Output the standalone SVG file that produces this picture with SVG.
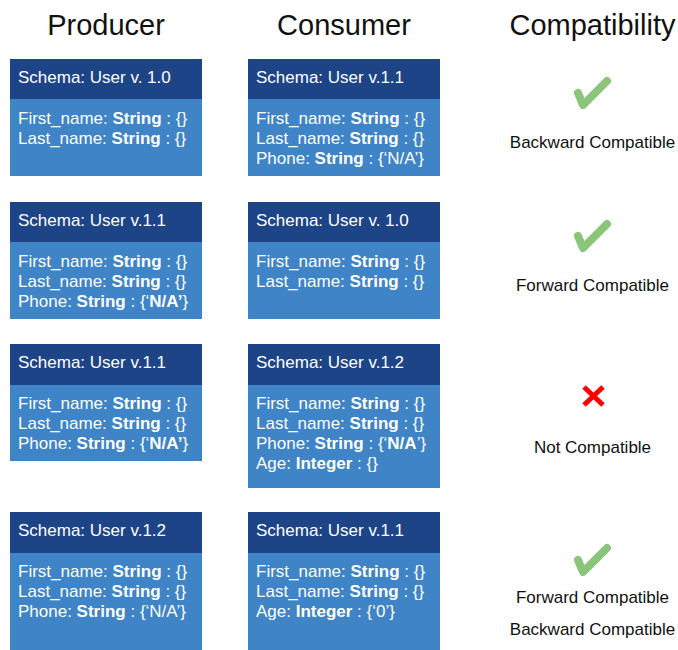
<svg xmlns="http://www.w3.org/2000/svg" width="678" height="650" viewBox="0 0 678 650">
<style>
text{font-family:"Liberation Sans",Arial,sans-serif}
.title{font-size:29px;fill:#111;text-anchor:middle}
.hdr{fill:#1D4487}
.body{fill:#3E84C6}
.ht{font-size:17px;fill:#fff}
.bt{font-size:17px;fill:#fff}
b,.b{font-weight:bold}
.ct{font-size:17px;fill:#111;text-anchor:middle}
.chk{fill:none;stroke:#8BC57A;stroke-width:8;stroke-linecap:round;stroke-linejoin:round}
.x{stroke:#FF0000;stroke-width:5}
</style>
<rect width="678" height="650" fill="#fff"/>
<g id="titles">
<text class="title" x="106" y="35">Producer</text>
<text class="title" x="344" y="35">Consumer</text>
<text class="title" x="592.5" y="35">Compatibility</text>
</g>

<g id="p1">
<rect class="body" x="10" y="59" width="192" height="117"/>
<rect class="hdr" x="10" y="59" width="192" height="40"/>
<text class="ht" x="18" y="83">Schema: User v. 1.0</text>
<text class="bt" x="18" y="124">First_name: <tspan class="b">String</tspan> : {}</text>
<text class="bt" x="18" y="144">Last_name: <tspan class="b">String</tspan> : {}</text>
</g>
<g id="c1">
<rect class="body" x="248" y="59" width="192" height="117"/>
<rect class="hdr" x="248" y="59" width="192" height="40"/>
<text class="ht" x="256" y="83">Schema: User v.1.1</text>
<text class="bt" x="256" y="124">First_name: <tspan class="b">String</tspan> : {}</text>
<text class="bt" x="256" y="144">Last_name: <tspan class="b">String</tspan> : {}</text>
<text class="bt" x="256" y="164">Phone: <tspan class="b">String</tspan> : {‘N/A’}</text>
</g>
<g id="r1">
<path class="chk" d="M578,93 L583,105 L607,81"/>
<text class="ct" x="592.5" y="148">Backward Compatible</text>
</g>

<g id="p2">
<rect class="body" x="10" y="202" width="192" height="117"/>
<rect class="hdr" x="10" y="202" width="192" height="40"/>
<text class="ht" x="18" y="226">Schema: User v.1.1</text>
<text class="bt" x="18" y="267">First_name: <tspan class="b">String</tspan> : {}</text>
<text class="bt" x="18" y="287">Last_name: <tspan class="b">String</tspan> : {}</text>
<text class="bt" x="18" y="307">Phone: <tspan class="b">String</tspan> : {‘<tspan class="b">N/A’</tspan>}</text>
</g>
<g id="c2">
<rect class="body" x="248" y="202" width="192" height="117"/>
<rect class="hdr" x="248" y="202" width="192" height="40"/>
<text class="ht" x="256" y="226">Schema: User v. 1.0</text>
<text class="bt" x="256" y="267">First_name: <tspan class="b">String</tspan> : {}</text>
<text class="bt" x="256" y="287">Last_name: <tspan class="b">String</tspan> : {}</text>
</g>
<g id="r2">
<path class="chk" d="M578,236 L583,248 L607,224"/>
<text class="ct" x="592.5" y="291">Forward Compatible</text>
</g>

<g id="p3">
<rect class="body" x="10" y="344" width="192" height="117"/>
<rect class="hdr" x="10" y="344" width="192" height="41"/>
<text class="ht" x="18" y="368">Schema: User v.1.1</text>
<text class="bt" x="18" y="409">First_name: <tspan class="b">String</tspan> : {}</text>
<text class="bt" x="18" y="429">Last_name: <tspan class="b">String</tspan> : {}</text>
<text class="bt" x="18" y="449">Phone: <tspan class="b">String</tspan> : {‘<tspan class="b">N/A’</tspan>}</text>
</g>
<g id="c3">
<rect class="body" x="248" y="344" width="192" height="144"/>
<rect class="hdr" x="248" y="344" width="192" height="41"/>
<text class="ht" x="256" y="368">Schema: User v.1.2</text>
<text class="bt" x="256" y="409">First_name: <tspan class="b">String</tspan> : {}</text>
<text class="bt" x="256" y="429">Last_name: <tspan class="b">String</tspan> : {}</text>
<text class="bt" x="256" y="449">Phone: <tspan class="b">String</tspan> : {‘<tspan class="b">N/A</tspan>’}</text>
<text class="bt" x="256" y="469">Age: <tspan class="b">Integer</tspan> : {}</text>
</g>
<g id="r3">
<path class="x" d="M584,387 L603,405 M603,387 L584,405"/>
<text class="ct" x="592.5" y="453">Not Compatible</text>
</g>

<g id="p4">
<rect class="body" x="10" y="512" width="192" height="138"/>
<rect class="hdr" x="10" y="512" width="192" height="41"/>
<text class="ht" x="18" y="536">Schema: User v.1.2</text>
<text class="bt" x="18" y="577">First_name: <tspan class="b">String</tspan> : {}</text>
<text class="bt" x="18" y="597">Last_name: <tspan class="b">String</tspan> : {}</text>
<text class="bt" x="18" y="617">Phone: <tspan class="b">String</tspan> : {‘N/A’}</text>
</g>
<g id="c4">
<rect class="body" x="248" y="512" width="192" height="138"/>
<rect class="hdr" x="248" y="512" width="192" height="41"/>
<text class="ht" x="256" y="536">Schema: User v.1.1</text>
<text class="bt" x="256" y="577">First_name: <tspan class="b">String</tspan> : {}</text>
<text class="bt" x="256" y="597">Last_name: <tspan class="b">String</tspan> : {}</text>
<text class="bt" x="256" y="617">Age: <tspan class="b">Integer</tspan> : {‘0’}</text>
</g>
<g id="r4">
<path class="chk" d="M578,560 L583,572 L607,548"/>
<text class="ct" x="592.5" y="603">Forward Compatible</text>
<text class="ct" x="592.5" y="635">Backward Compatible</text>
</g>
<g id="connectors"></g>
</svg>
